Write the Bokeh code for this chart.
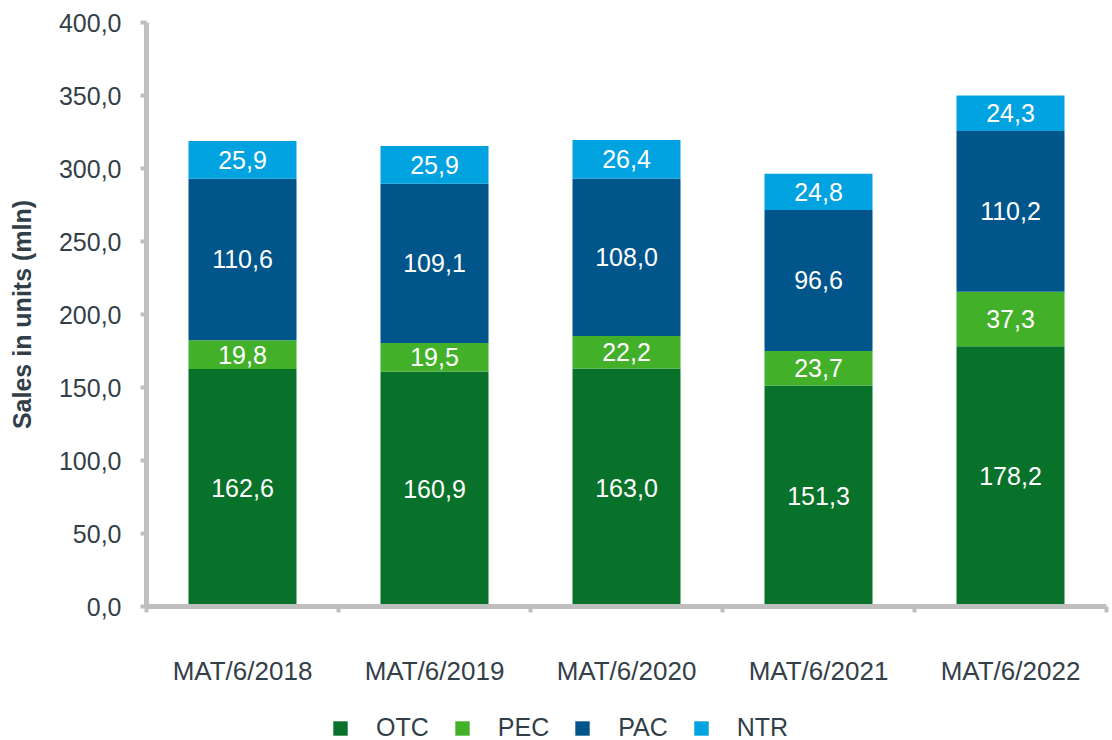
import numpy as np
from bokeh.plotting import figure
from bokeh.layouts import column
from bokeh.models import (ColumnDataSource, FixedTicker, Range1d, Legend,
                          LegendItem, LabelSet)
from bokeh.core.properties import value
from bokeh.embed import file_html
from bokeh.resources import INLINE

periods = ["MAT/6/2018", "MAT/6/2019", "MAT/6/2020", "MAT/6/2021", "MAT/6/2022"]
segments = ["OTC", "PEC", "PAC", "NTR"]
otc = [162.6, 160.9, 163.0, 151.3, 178.2]
pec = [19.8, 19.5, 22.2, 23.7, 37.3]
pac = [110.6, 109.1, 108.0, 96.6, 110.2]
ntr = [25.9, 25.9, 26.4, 24.8, 24.3]
y_ticks = [0, 50, 100, 150, 200, 250, 300, 350, 400]

colors = ["#08722A", "#43B02A", "#00558A", "#00A3E0"]
FONT = "Liberation Sans"
TXT = "#333F48"
AX = "#BFBFBF"


def fmt(v):
    return f"{v:.1f}".replace(".", ",")


series = dict(zip(segments, [otc, pec, pac, ntr]))
xpos = np.arange(len(periods)) + 0.5
data = {"x": xpos}
data.update(series)
src = ColumnDataSource(data)

p = figure(width=1112, height=700, output_backend="svg", toolbar_location=None,
           x_range=Range1d(0, len(periods)), y_range=Range1d(0, 400),
           min_border_left=146, min_border_right=6, min_border_top=22,
           min_border_bottom=94)
p.outline_line_color = None
p.xgrid.grid_line_color = None
p.ygrid.grid_line_color = None

renderers = p.vbar_stack(segments, x="x", width=0.5625, source=src,
                         color=colors, line_color=None)

# segment labels
bottom = np.zeros(len(periods))
for seg in segments:
    vals = np.array(series[seg])
    mids = bottom + vals / 2
    lsrc = ColumnDataSource({"x": xpos, "y": mids, "t": [fmt(v) for v in vals]})
    p.add_layout(LabelSet(x="x", y="y", text="t", source=lsrc,
                          text_align="center", text_baseline="middle",
                          text_color="white", text_font=value(FONT),
                          text_font_size="25px"))
    bottom = bottom + vals

# y axis
ya = p.yaxis[0]
ya.ticker = FixedTicker(ticks=y_ticks)
ya.major_label_overrides = {t: fmt(t) for t in y_ticks}
ya.axis_line_color = AX
ya.axis_line_width = 5
ya.major_tick_line_color = AX
ya.major_tick_line_width = 4
ya.major_tick_out = 6
ya.major_tick_in = 0
ya.minor_tick_line_color = None
ya.major_label_standoff = 19
ya.major_label_text_font = FONT
ya.major_label_text_font_size = "25px"
ya.major_label_text_color = TXT
ya.axis_label = "Sales in units (mln)"
ya.axis_label_text_font = FONT
ya.axis_label_text_font_size = "25px"
ya.axis_label_text_font_style = "bold"
ya.axis_label_text_color = TXT
ya.axis_label_standoff = 20

# x axis
xa = p.xaxis[0]
xa.ticker = FixedTicker(ticks=list(xpos),
                        minor_ticks=list(np.arange(len(periods) + 1)))
xa.major_label_overrides = {float(x): lab for x, lab in zip(xpos, periods)}
xa.axis_line_color = AX
xa.axis_line_width = 5
xa.major_tick_line_color = None
xa.major_tick_out = 0
xa.major_tick_in = 0
xa.minor_tick_line_color = AX
xa.minor_tick_line_width = 4
xa.minor_tick_out = 6
xa.minor_tick_in = 0
xa.major_label_standoff = 43
xa.major_label_text_font = FONT
xa.major_label_text_font_size = "26px"
xa.major_label_text_color = TXT

# legend strip below the chart (its frame is aligned with the main frame)
pl = figure(width=1112, height=40, output_backend="svg", toolbar_location=None,
            x_range=Range1d(0, len(periods)), y_range=Range1d(1000, 1001),
            x_axis_location=None, y_axis_location=None, min_border=0)
pl.outline_line_color = None
pl.xgrid.grid_line_color = None
pl.ygrid.grid_line_color = None
leg_r = pl.vbar_stack(segments, x="x", width=0.5, source=src,
                      color=colors, line_color=None)
legend = Legend(items=[LegendItem(label=s, renderers=[r]) for s, r in zip(segments, leg_r)],
                location=(185, -2), orientation="horizontal",
                border_line_color=None, background_fill_alpha=0,
                padding=0, margin=0, glyph_width=18, glyph_height=18,
                label_standoff=27, spacing=24,
                label_text_font=FONT, label_text_font_size="25px",
                label_text_color=TXT)
pl.add_layout(legend)

layout = column(p, pl, spacing=0)
open("out.html", "w").write(file_html(layout, INLINE))
